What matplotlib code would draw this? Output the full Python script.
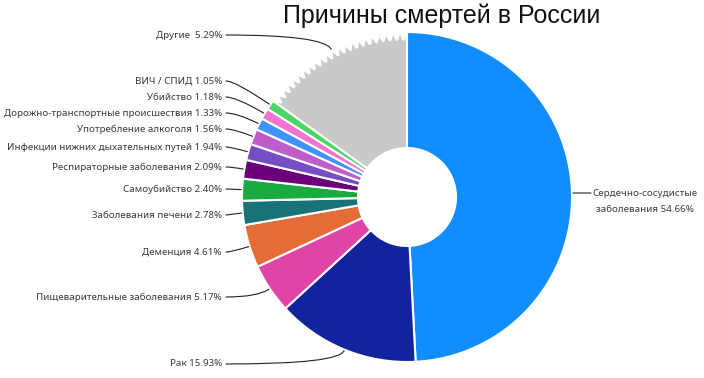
import numpy as np
import matplotlib.pyplot as plt
from matplotlib.patches import Polygon

causes = ["Сердечно-сосудистые\nзаболевания", "Рак", "Пищеварительные заболевания",
          "Деменция", "Заболевания печени", "Самоубийство", "Респираторные заболевания",
          "Инфекции нижних дыхательных путей", "Употребление алкоголя",
          "Дорожно-транспортные происшествия", "Убийство", "ВИЧ / СПИД", "Другие"]
shares = [54.66, 15.93, 5.17, 4.61, 2.78, 2.40, 2.09, 1.94, 1.56, 1.33, 1.18, 1.05, 5.29]
# slice sizes as drawn in the picture (degrees) - the picture is not to scale
arc_deg = [177, 50.5, 17.5, 15.2, 8.5, 7.7, 6.6, 5.7, 5.5, 4.2, 3.9, 3.4, 54.3]
colors = ["#118DFF", "#12239E", "#E044A7", "#E66C37", "#197278", "#1AAB40", "#6B007B",
          "#744EC2", "#BE5DC9", "#4092FF", "#F472D0", "#4AD661", "#C8C9CB"]
label_y = [193, 364, 297, 252, 215, 189, 167, 147, 129, 113, 97, 81, 35]

W, H = 704, 378
cx, cy, R, r_in = 407, H - 197, 165, 49

plt.rcParams["font.family"] = ["Noto Sans", "DejaVu Sans"]

fig = plt.figure(figsize=(W / 100, H / 100), dpi=100)
ax = fig.add_axes([0, 0, 1, 1])
wedges, _ = ax.pie(arc_deg, colors=colors, startangle=90, counterclock=False,
                   center=(cx, cy), radius=R,
                   wedgeprops=dict(width=R - r_in, edgecolor="white", linewidth=1.5))
ax.set_xlim(0, W)
ax.set_ylim(0, H)
ax.axis("off")

# "Другие" drawn with a saw-tooth rim
g = wedges[-1]
g.set_visible(False)
n = 22
th = np.radians(np.linspace(g.theta1, g.theta2, 2 * n + 1))
rr = np.where(np.arange(2 * n + 1) % 2 == 0, R, R - 8)
outer = np.column_stack([cx + rr * np.cos(th), cy + rr * np.sin(th)])
th_in = th[::-1]
inner = np.column_stack([cx + r_in * np.cos(th_in), cy + r_in * np.sin(th_in)])
ax.add_patch(Polygon(np.vstack([outer, inner]), closed=True, facecolor=colors[-1],
                     edgecolor="white", linewidth=1.5))

txt = "#3b3a39"
fs = 7.0
line_kw = dict(arrowstyle="-", color="#222222", lw=0.8, shrinkA=0, shrinkB=0)
for i, w in enumerate(wedges):
    mid = (w.theta1 + w.theta2) / 2
    a = np.radians(mid)
    ex, ey = cx + (R + 1) * np.cos(a), cy + (R + 1) * np.sin(a)
    y = H - label_y[i]
    if i == 0:
        ax.annotate("", xy=(ex, y), xytext=(ex + 18, y), arrowprops=line_kw)
        ax.text(645, y - 9, f"{causes[i]} {shares[i]:.2f}%", ha="center", va="center",
                fontsize=fs, color=txt, linespacing=2.0)
        continue
    sep = "  " if causes[i] == "Другие" else " "
    ax.text(222, y, f"{causes[i]}{sep}{shares[i]:.2f}%", ha="right", va="center",
            fontsize=fs, color=txt)
    if abs(np.sin(a)) < 0.15:
        cs = "arc3,rad=0"
    else:
        cs = f"angle3,angleA=0,angleB={mid:.1f}"
    ax.annotate("", xy=(ex, ey), xytext=(226, y),
                arrowprops=dict(line_kw, connectionstyle=cs))

ax.text(442, H - 16, "Причины смертей в России", ha="center", va="center",
        fontsize=18, color="#111111", family=["Liberation Sans"])

fig.savefig("out.png", dpi=100)
